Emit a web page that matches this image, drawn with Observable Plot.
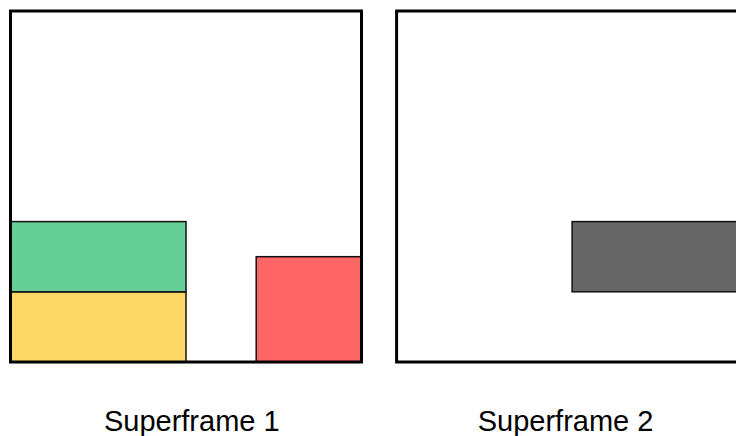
<!DOCTYPE html>
<html>
<head>
<meta charset="utf-8">
<script src="https://cdn.jsdelivr.net/npm/d3@7"></script>
<script src="https://cdn.jsdelivr.net/npm/@observablehq/plot@0.6"></script>
<style>
  html, body { margin: 0; padding: 0; background: white; overflow: hidden; }
  #chart svg { overflow: hidden; display: block; }
</style>
</head>
<body>
<div id="chart"></div>
<script>
// Superframes (outlines) in slot units
const frameLabels = ["Superframe 1", "Superframe 2"];
const frameX1 = [0, 11];
const frameX2 = [10, 21];
const frameY1 = [0, 0];
const frameY2 = [10, 10];
const labelX = [5.15, 15.8];
const labelY = [-1.7, -1.7];

// Blocks inside the superframes
const blockX1 = [0, 0, 7, 16];
const blockX2 = [5, 5, 10, 21];
const blockY1 = [0, 2, 0, 2];
const blockY2 = [2, 4, 3, 4];
const blockColors = ["#FDD765", "#66CF96", "#FF6666", "#666666"];

const frames = frameLabels.map((label, i) => ({
  label, x1: frameX1[i], x2: frameX2[i], y1: frameY1[i], y2: frameY2[i], lx: labelX[i], ly: labelY[i]
}));
const blocks = blockColors.map((c, i) => ({
  x1: blockX1[i], x2: blockX2[i], y1: blockY1[i], y2: blockY2[i], color: c
}));

const chart = Plot.plot({
  width: 736,
  height: 436,
  margin: 0,
  x: {domain: [0, 10], range: [10.5, 361.5], axis: null},
  y: {domain: [0, 10], range: [362, 11], axis: null},
  color: {type: "identity"},
  marks: [
    Plot.rect(blocks, {x1: "x1", x2: "x2", y1: "y1", y2: "y2", fill: "color", stroke: "#111", strokeWidth: 1.5}),
    Plot.rect(frames, {x1: "x1", x2: "x2", y1: "y1", y2: "y2", fill: "none", stroke: "black", strokeWidth: 3}),
    Plot.text(frames, {x: "lx", y: "ly", text: "label", fontSize: 29, fill: "black",
      fontFamily: "Liberation Sans, Arial, sans-serif", textAnchor: "middle", lineAnchor: "middle"})
  ]
});
document.getElementById("chart").appendChild(chart);
</script>
</body>
</html>
